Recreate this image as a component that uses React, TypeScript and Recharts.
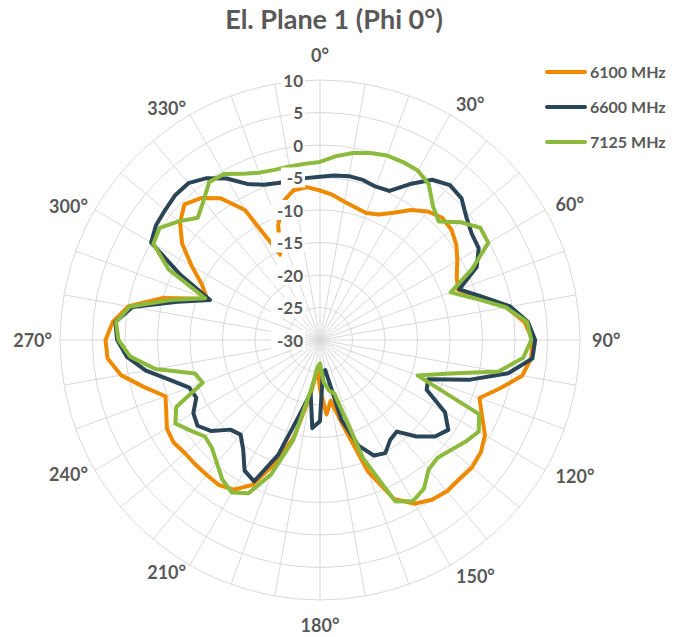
import React from 'react';
import { RadarChart, Radar, PolarGrid, PolarAngleAxis, PolarRadiusAxis, Legend } from 'recharts';

// angle categories, 5 degree steps
const angles = [
  0, 5, 10, 15, 20, 25, 30, 35, 40, 45, 50, 55,
  60, 65, 70, 75, 80, 85, 90, 95, 100, 105, 110, 115,
  120, 125, 130, 135, 140, 145, 150, 155, 160, 165, 170, 175,
  180, 185, 190, 195, 200, 205, 210, 215, 220, 225, 230, 235,
  240, 245, 250, 255, 260, 265, 270, 275, 280, 285, 290, 295,
  300, 305, 310, 315, 320, 325, 330, 335, 340, 345, 350, 355,
];

// gain in dB, one value per angle
const gain6100 = [
  -7.0, -7.6, -8.4, -8.9, -9.2, -8.7, -7.4, -5.6, -4.2, -3.4, -3.6, -4.4,
  -5.6, -6.8, -7.4, -4.8, -0.9, 1.6, 2.7, 2.6, 1.6, -1.3, -3.9, -2.5,
  -0.7, 0.2, 0.5, 0.3, 0.4, 0.0, -0.9, -3.0, -8.5, -16.5, -20.5, -18.5,
  -22.5, -25.5, -21.3, -14.6, -9.8, -5.4, -3.4, -2.8, -2.9, -2.9, -2.9, -2.5,
  -2.8, -3.9, -4.7, -2.0, 1.1, 2.8, 3.0, 2.0, -0.1, -5.0, -11.5, -10.0,
  -7.2, -4.1, -1.9, -0.5, -1.5, -3.4, -6.9, -15.5, -11.2, -8.0, -6.6, -6.4,
];

const gain6600 = [
  -4.9, -4.6, -4.4, -4.5, -4.9, -4.7, -2.3, 0.1, 1.1, 0.8, -0.6, -1.5,
  -1.8, -3.4, -7.2, -4.2, -0.3, 2.1, 3.1, 2.8, -0.6, -6.3, -12.3, -11.9,
  -7.8, -5.9, -6.9, -9.0, -11.6, -11.2, -9.9, -10.4, -12.7, -17.3, -25.3, -25.0,
  -17.5, -16.4, -21.7, -18.3, -11.2, -6.0, -6.8, -9.4, -11.0, -10.5, -8.2, -7.0,
  -7.5, -9.0, -8.6, -6.2, -2.8, -0.2, 1.2, 1.6, -0.7, -7.3, -12.0, -6.3,
  0.0, 0.8, 1.1, 1.5, 1.5, 0.4, -1.3, -3.5, -4.6, -5.0, -5.1, -5.0,
];

const gain7125 = [
  -2.6, -1.6, -0.8, -0.2, 0.2, 0.2, 0.1, -0.8, -3.0, -4.2, -1.8, 0.1,
  -0.1, -4.2, -8.6, -5.3, -1.0, 2.0, 2.5, 1.4, -2.1, -10.0, -14.0, -3.0,
  -1.8, -2.7, -3.7, -4.4, -4.0, -2.1, -1.4, -2.6, -10.7, -21.5, -22.1, -23.5,
  -26.4, -25.8, -22.4, -14.0, -8.0, -4.0, -2.9, -3.8, -5.3, -6.5, -6.9, -5.7,
  -4.3, -5.6, -10.8, -10.1, -4.3, -0.7, 1.0, 1.5, -0.3, -6.2, -11.2, -4.3,
  -0.4, 0.1, -1.6, -3.4, -2.1, -0.3, -0.5, -1.8, -2.6, -2.9, -2.9, -2.8,
];

const seriesNames = ['6100 MHz', '6600 MHz', '7125 MHz'];
const seriesColors = ['#EE8A00', '#294557', '#8CBA3C'];
const spokeAngles = [
  0, 10, 20, 30, 40, 50, 60, 70, 80, 90, 100, 110, 120, 130, 140, 150, 160, 170,
  180, 190, 200, 210, 220, 230, 240, 250, 260, 270, 280, 290, 300, 310, 320, 330, 340, 350,
];

const CX = 320;
const CY = 340;
const OUTER = 260;
const RAD = Math.PI / 180;
const FONT = 'Lato, "Open Sans", sans-serif';
const TEXT = '#595959';

const data = angles.map((a, i) => ({
  angle: a,
  f6100: gain6100[i],
  f6600: gain6600[i],
  f7125: gain7125[i],
}));

// Excel-like placement: labels start/end at a point just outside the outer ring
const AngleTick = (props: any) => {
  const { payload } = props;
  const v = Number(payload.value);
  if (v % 30 !== 0) return <g />;
  const a = -payload.coordinate * RAD;
  const cos = Math.cos(a);
  const sin = Math.sin(a);
  const r = cos < -0.1 ? 268 : 272;
  const x = CX + r * cos;
  let y = CY + r * sin;
  let anchor: 'start' | 'end' | 'middle' = 'middle';
  if (cos > 0.1) anchor = 'start';
  else if (cos < -0.1) anchor = 'end';
  else y += sin * 13;
  return (
    <text x={x} y={y} textAnchor={anchor} dominantBaseline="central"
      fill={TEXT} fontSize={18} fontWeight={700} fontFamily={FONT}>
      {v}°
    </text>
  );
};

const RadiusTick = (props: any) => {
  const { x, y, payload } = props;
  const label = String(payload.value);
  const w = label.length * 10 + 2;
  return (
    <g>
      <rect x={x - 17 - w} y={y - 10} width={w + 2} height={20} fill="#fff" />
      <text x={x - 17} y={y} textAnchor="end" dominantBaseline="central"
        fill={TEXT} fontSize={17} fontWeight={700} fontFamily={FONT}>
        {label}
      </text>
    </g>
  );
};

const LegendBox = (props: any) => {
  const items = props.payload || [];
  return (
    <div style={{ fontFamily: FONT }}>
      {items.map((it: any, i: number) => (
        <div key={i} style={{ display: 'flex', alignItems: 'center', height: 35 }}>
          <span style={{ width: 42, height: 4, borderRadius: 2, background: it.color, marginRight: 3 }} />
          <span style={{ color: TEXT, fontWeight: 700, fontSize: 16 }}>{it.value}</span>
        </div>
      ))}
    </div>
  );
};

export default function App() {
  return (
    <div style={{ position: 'absolute', left: 0, top: 0, width: 687, height: 637, background: '#fff' }}>
      <div style={{
        position: 'absolute', left: 0, top: 2, width: 668, textAlign: 'center',
        fontFamily: FONT, fontWeight: 700, fontSize: 27, color: TEXT, zIndex: 2,
      }}>
        El. Plane 1 (Phi 0°)
      </div>
      <RadarChart width={687} height={637} data={data} cx={CX} cy={CY} outerRadius={OUTER}
        margin={{ top: 0, right: 0, bottom: 0, left: 0 }}>
        <PolarGrid gridType="circle" stroke="#D9D9D9" polarAngles={spokeAngles} />
        <PolarAngleAxis dataKey="angle" tick={AngleTick} tickLine={false} axisLine={false} />
        <Radar name={seriesNames[0]} dataKey="f6100" stroke={seriesColors[0]} strokeWidth={4}
          fill="none" fillOpacity={0} dot={false} strokeLinejoin="round" isAnimationActive={false} />
        <Radar name={seriesNames[1]} dataKey="f6600" stroke={seriesColors[1]} strokeWidth={4}
          fill="none" fillOpacity={0} dot={false} strokeLinejoin="round" isAnimationActive={false} />
        <Radar name={seriesNames[2]} dataKey="f7125" stroke={seriesColors[2]} strokeWidth={4}
          fill="none" fillOpacity={0} dot={false} strokeLinejoin="round" isAnimationActive={false} />
        <PolarRadiusAxis angle={90} type="number" domain={[-30, 10]} tickCount={9}
          axisLine={false} tickLine={false} tick={RadiusTick} />
        <Legend layout="vertical" align="right" verticalAlign="top" content={LegendBox}
          wrapperStyle={{ position: 'absolute', left: 545, top: 54, width: 140 }} />
      </RadarChart>
    </div>
  );
}
